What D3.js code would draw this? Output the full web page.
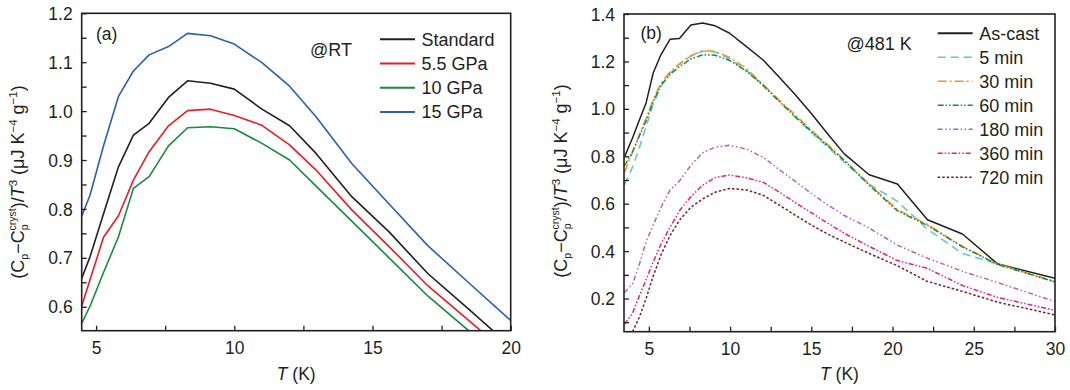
<!DOCTYPE html>
<html><head><meta charset="utf-8">
<script src="https://cdn.jsdelivr.net/npm/d3@7"></script>
<style>
html,body{margin:0;padding:0;background:#fff;}
svg{display:block;font-family:"Liberation Sans",Arial,sans-serif;}
</style></head>
<body>
<svg id="c" width="1070" height="390"></svg>
<script>
// ---------- Panel (a) data ----------
const tempA = [4.48, 4.78, 5.27, 5.81, 6.35, 6.92, 7.62, 8.31, 9.14, 10.0, 11.0, 12.0, 12.95, 14.25, 15.6, 17.0, 18.5, 20.0];
const standard = [0.658, 0.702, 0.790, 0.886, 0.951, 0.975, 1.028, 1.062, 1.057, 1.045, 1.004, 0.970, 0.914, 0.825, 0.753, 0.668, 0.594, 0.519];
const gpa5_5 = [0.601, 0.655, 0.742, 0.786, 0.859, 0.917, 0.970, 1.001, 1.004, 0.991, 0.971, 0.931, 0.880, 0.798, 0.723, 0.643, 0.571, 0.499];
const gpa10 = [0.566, 0.601, 0.670, 0.743, 0.842, 0.866, 0.929, 0.966, 0.968, 0.964, 0.934, 0.900, 0.847, 0.775, 0.700, 0.622, 0.550, 0.477];
const gpa15 = [0.785, 0.828, 0.929, 1.030, 1.082, 1.115, 1.132, 1.159, 1.154, 1.137, 1.099, 1.051, 0.989, 0.893, 0.810, 0.725, 0.648, 0.572];
const labelsA = ["Standard", "5.5 GPa", "10 GPa", "15 GPa"];
const ticksAx = [5, 10, 15, 20];
const ticksAy = [0.6, 0.7, 0.8, 0.9, 1.0, 1.1, 1.2];

// ---------- Panel (b) data ----------
const tempB = [3.5, 4.0, 4.41, 4.83, 5.27, 5.75, 6.3, 6.88, 7.59, 8.31, 9.08, 9.95, 11.03, 12.05, 13.0, 14.0, 15.0, 16.0, 17.03, 18.56, 20.3, 22.15, 24.3, 26.45, 30.0];
const asCast = [0.797, 0.878, 0.952, 1.025, 1.152, 1.229, 1.293, 1.297, 1.354, 1.362, 1.350, 1.320, 1.261, 1.205, 1.135, 1.060, 0.980, 0.895, 0.810, 0.722, 0.683, 0.532, 0.472, 0.347, 0.285];
const min5 = [0.680, 0.755, 0.835, 0.925, 1.020, 1.095, 1.150, 1.188, 1.222, 1.243, 1.240, 1.212, 1.160, 1.100, 1.035, 0.965, 0.900, 0.840, 0.775, 0.682, 0.610, 0.492, 0.390, 0.346, 0.270];
const min30 = [0.732, 0.817, 0.890, 0.960, 1.040, 1.110, 1.155, 1.190, 1.225, 1.245, 1.243, 1.218, 1.168, 1.103, 1.038, 0.975, 0.910, 0.850, 0.785, 0.682, 0.575, 0.512, 0.420, 0.346, 0.272];
const min60 = [0.760, 0.820, 0.885, 0.950, 1.030, 1.100, 1.145, 1.178, 1.210, 1.228, 1.226, 1.205, 1.158, 1.097, 1.033, 0.968, 0.905, 0.845, 0.782, 0.678, 0.570, 0.508, 0.418, 0.344, 0.270];
const min180 = [0.225, 0.262, 0.343, 0.440, 0.510, 0.585, 0.657, 0.695, 0.762, 0.815, 0.838, 0.846, 0.830, 0.795, 0.745, 0.695, 0.643, 0.595, 0.550, 0.497, 0.425, 0.370, 0.315, 0.268, 0.187];
const min360 = [0.092, 0.139, 0.210, 0.280, 0.355, 0.430, 0.500, 0.570, 0.630, 0.678, 0.710, 0.721, 0.709, 0.690, 0.650, 0.605, 0.562, 0.518, 0.475, 0.420, 0.360, 0.327, 0.255, 0.205, 0.150];
const min720 = [null, 0.060, 0.120, 0.200, 0.295, 0.385, 0.465, 0.530, 0.585, 0.620, 0.648, 0.664, 0.658, 0.635, 0.595, 0.552, 0.510, 0.472, 0.438, 0.390, 0.338, 0.272, 0.230, 0.185, 0.131];
const labelsB = ["As-cast", "5 min", "30 min", "60 min", "180 min", "360 min", "720 min"];
const ticksBx = [5, 10, 15, 20, 25, 30];
const ticksBy = [0.2, 0.4, 0.6, 0.8, 1.0, 1.2, 1.4];

const INK = "#231f20";
const svg = d3.select("#c");

function panel(cfg) {
  const g = svg.append("g");
  const x = d3.scaleLinear().domain(cfg.xd).range([cfg.l, cfg.r]);
  const y = d3.scaleLinear().domain(cfg.yd).range([cfg.b, cfg.t]);
  const clipId = "clip" + cfg.id;
  svg.append("clipPath").attr("id", clipId).append("rect")
    .attr("x", cfg.l).attr("y", cfg.t).attr("width", cfg.r - cfg.l).attr("height", cfg.b - cfg.t);

  const line = d3.line().defined(d => d[1] != null).x(d => x(d[0])).y(d => y(d[1]));
  const lg = g.append("g").attr("clip-path", `url(#${clipId})`);
  cfg.series.forEach(s => {
    lg.append("path").datum(cfg.temps.map((t, i) => [t, s.values[i]]))
      .attr("d", line).attr("fill", "none").attr("stroke", s.color)
      .attr("stroke-width", s.w).attr("stroke-dasharray", s.dash || null)
      .attr("stroke-linejoin", "round");
  });

  const xAxis = d3.axisBottom(x).tickValues(cfg.xMinor).tickSize(-5).tickFormat(d => cfg.xt.includes(d) ? d3.format("d")(d) : "").tickPadding(9);
  const yAxis = d3.axisLeft(y).tickValues(cfg.yMinor).tickSize(-5).tickFormat(d => cfg.yt.some(v => Math.abs(v - d) < 1e-9) ? d3.format(".1f")(d) : "").tickPadding(9);
  const gx = g.append("g").attr("transform", `translate(0,${cfg.b})`).call(xAxis);
  const gy = g.append("g").attr("transform", `translate(${cfg.l},0)`).call(yAxis);
  [gx, gy].forEach(a => {
    a.select(".domain").remove();
    a.selectAll("line").attr("stroke", INK).attr("stroke-width", 1.3);
    a.selectAll("text").attr("fill", INK).style("font-size", "17.5px").style("font-family", '"Liberation Sans",Arial,sans-serif');
  });
  gx.selectAll("text").attr("dy", "0.71em").attr("y", 11);
  gy.selectAll("text").attr("dy", "0.35em");

  g.append("rect").attr("x", cfg.l).attr("y", cfg.t).attr("width", cfg.r - cfg.l).attr("height", cfg.b - cfg.t)
    .attr("fill", "none").attr("stroke", INK).attr("stroke-width", 1.6);

  const xt = g.append("text").attr("x", (cfg.l + cfg.r) / 2).attr("y", 380).attr("text-anchor", "middle")
    .attr("fill", INK).style("font-size", "17.5px");
  xt.append("tspan").style("font-style", "italic").text("T");
  xt.append("tspan").text(" (K)");

  const yt = g.append("text").attr("transform", `translate(${cfg.ylx},${cfg.yly}) rotate(-90)`)
    .attr("text-anchor", "middle").attr("fill", INK).style("font-size", "18px");
  yt.append("tspan").text("(C");
  yt.append("tspan").attr("dy", 4).style("font-size", "10.5px").text("p");
  yt.append("tspan").attr("dy", -4).text("\u2212C");
  yt.append("tspan").attr("dy", 4).style("font-size", "10.5px").text("p");
  yt.append("tspan").attr("dx", -6).attr("dy", -12).style("font-size", "10.5px").text("cryst");
  yt.append("tspan").attr("dy", 8).text(")/");
  yt.append("tspan").style("font-style", "italic").text("T");
  yt.append("tspan").attr("dy", -7).style("font-size", "11.5px").text("3");
  yt.append("tspan").attr("dy", 7).text(" (\u03bcJ K");
  yt.append("tspan").attr("dy", -7).style("font-size", "11.5px").text("\u22124");
  yt.append("tspan").attr("dy", 7).text(" g");
  yt.append("tspan").attr("dy", -7).style("font-size", "11.5px").text("\u22121");
  yt.append("tspan").attr("dy", 7).text(")");

  g.append("text").attr("x", cfg.tagX).attr("y", cfg.tagY).attr("fill", INK).style("font-size", "17.5px").text(cfg.tag);
  g.append("text").attr("x", cfg.condX).attr("y", cfg.condY).attr("fill", INK).style("font-size", "18px").text(cfg.cond);

  cfg.series.forEach((s, i) => {
    const ly = cfg.legY + i * cfg.legStep;
    g.append("line").attr("x1", cfg.legX1).attr("x2", cfg.legX2).attr("y1", ly).attr("y2", ly)
      .attr("stroke", s.color).attr("stroke-width", s.lw || s.w).attr("stroke-dasharray", s.dash || null);
    g.append("text").attr("x", cfg.legTX).attr("y", ly + 6.5).attr("fill", INK).style("font-size", "18px").text(s.label);
  });
}

panel({
  id: "a", l: 81.7, r: 510.7, t: 13.3, b: 330.7,
  xd: [4.48, 20], yd: [0.551, 1.2],
  xt: ticksAx, yt: ticksAy,
  xMinor: [5, 7.5, 10, 12.5, 15, 17.5, 20],
  yMinor: d3.range(0.6, 1.2001, 0.05).map(v => +v.toFixed(2)),
  temps: tempA,
  series: [
    {label: labelsA[0], values: standard, color: "#231f20", w: 1.6, lw: 2},
    {label: labelsA[1], values: gpa5_5, color: "#ed1c24", w: 1.6, lw: 2},
    {label: labelsA[2], values: gpa10, color: "#178a3e", w: 1.6, lw: 2},
    {label: labelsA[3], values: gpa15, color: "#2b5fb4", w: 1.6, lw: 2}
  ],
  ylx: 24, yly: 182,
  tag: "(a)", tagX: 96, tagY: 39.5,
  cond: "@RT", condX: 310, condY: 56,
  legX1: 380, legX2: 415, legTX: 421.5, legY: 39.3, legStep: 24.2
});

panel({
  id: "b", l: 624, r: 1055, t: 14, b: 331.7,
  xd: [3.47, 30], yd: [0.06, 1.4],
  xt: ticksBx, yt: ticksBy,
  xMinor: d3.range(5, 30.01, 2.5),
  yMinor: d3.range(0.1, 1.4001, 0.1).map(v => +v.toFixed(1)),
  temps: tempB,
  series: [
    {label: labelsB[0], values: asCast, color: "#231f20", w: 1.5, lw: 2},
    {label: labelsB[1], values: min5, color: "#5cc6da", w: 1.5, dash: "8,5"},
    {label: labelsB[2], values: min30, color: "#f7941d", w: 1.5, dash: "9,3,2,3"},
    {label: labelsB[3], values: min60, color: "#1f8a3d", w: 1.5, dash: "6,2,1.5,2,1.5,2"},
    {label: labelsB[4], values: min180, color: "#b462b6", w: 1.5, dash: "5,2.5,1.5,2.5,1.5,2.5"},
    {label: labelsB[5], values: min360, color: "#ec1e79", w: 1.5, dash: "5,2,1.5,2,1.5,2"},
    {label: labelsB[6], values: min720, color: "#7b1e22", w: 1.5, dash: "2.5,2"}
  ],
  ylx: 567, yly: 181,
  tag: "(b)", tagX: 640.5, tagY: 39,
  cond: "@481 K", condX: 846.5, condY: 50,
  legX1: 937.7, legX2: 972.7, legTX: 979.3, legY: 33.3, legStep: 24
});
</script>
</body></html>
